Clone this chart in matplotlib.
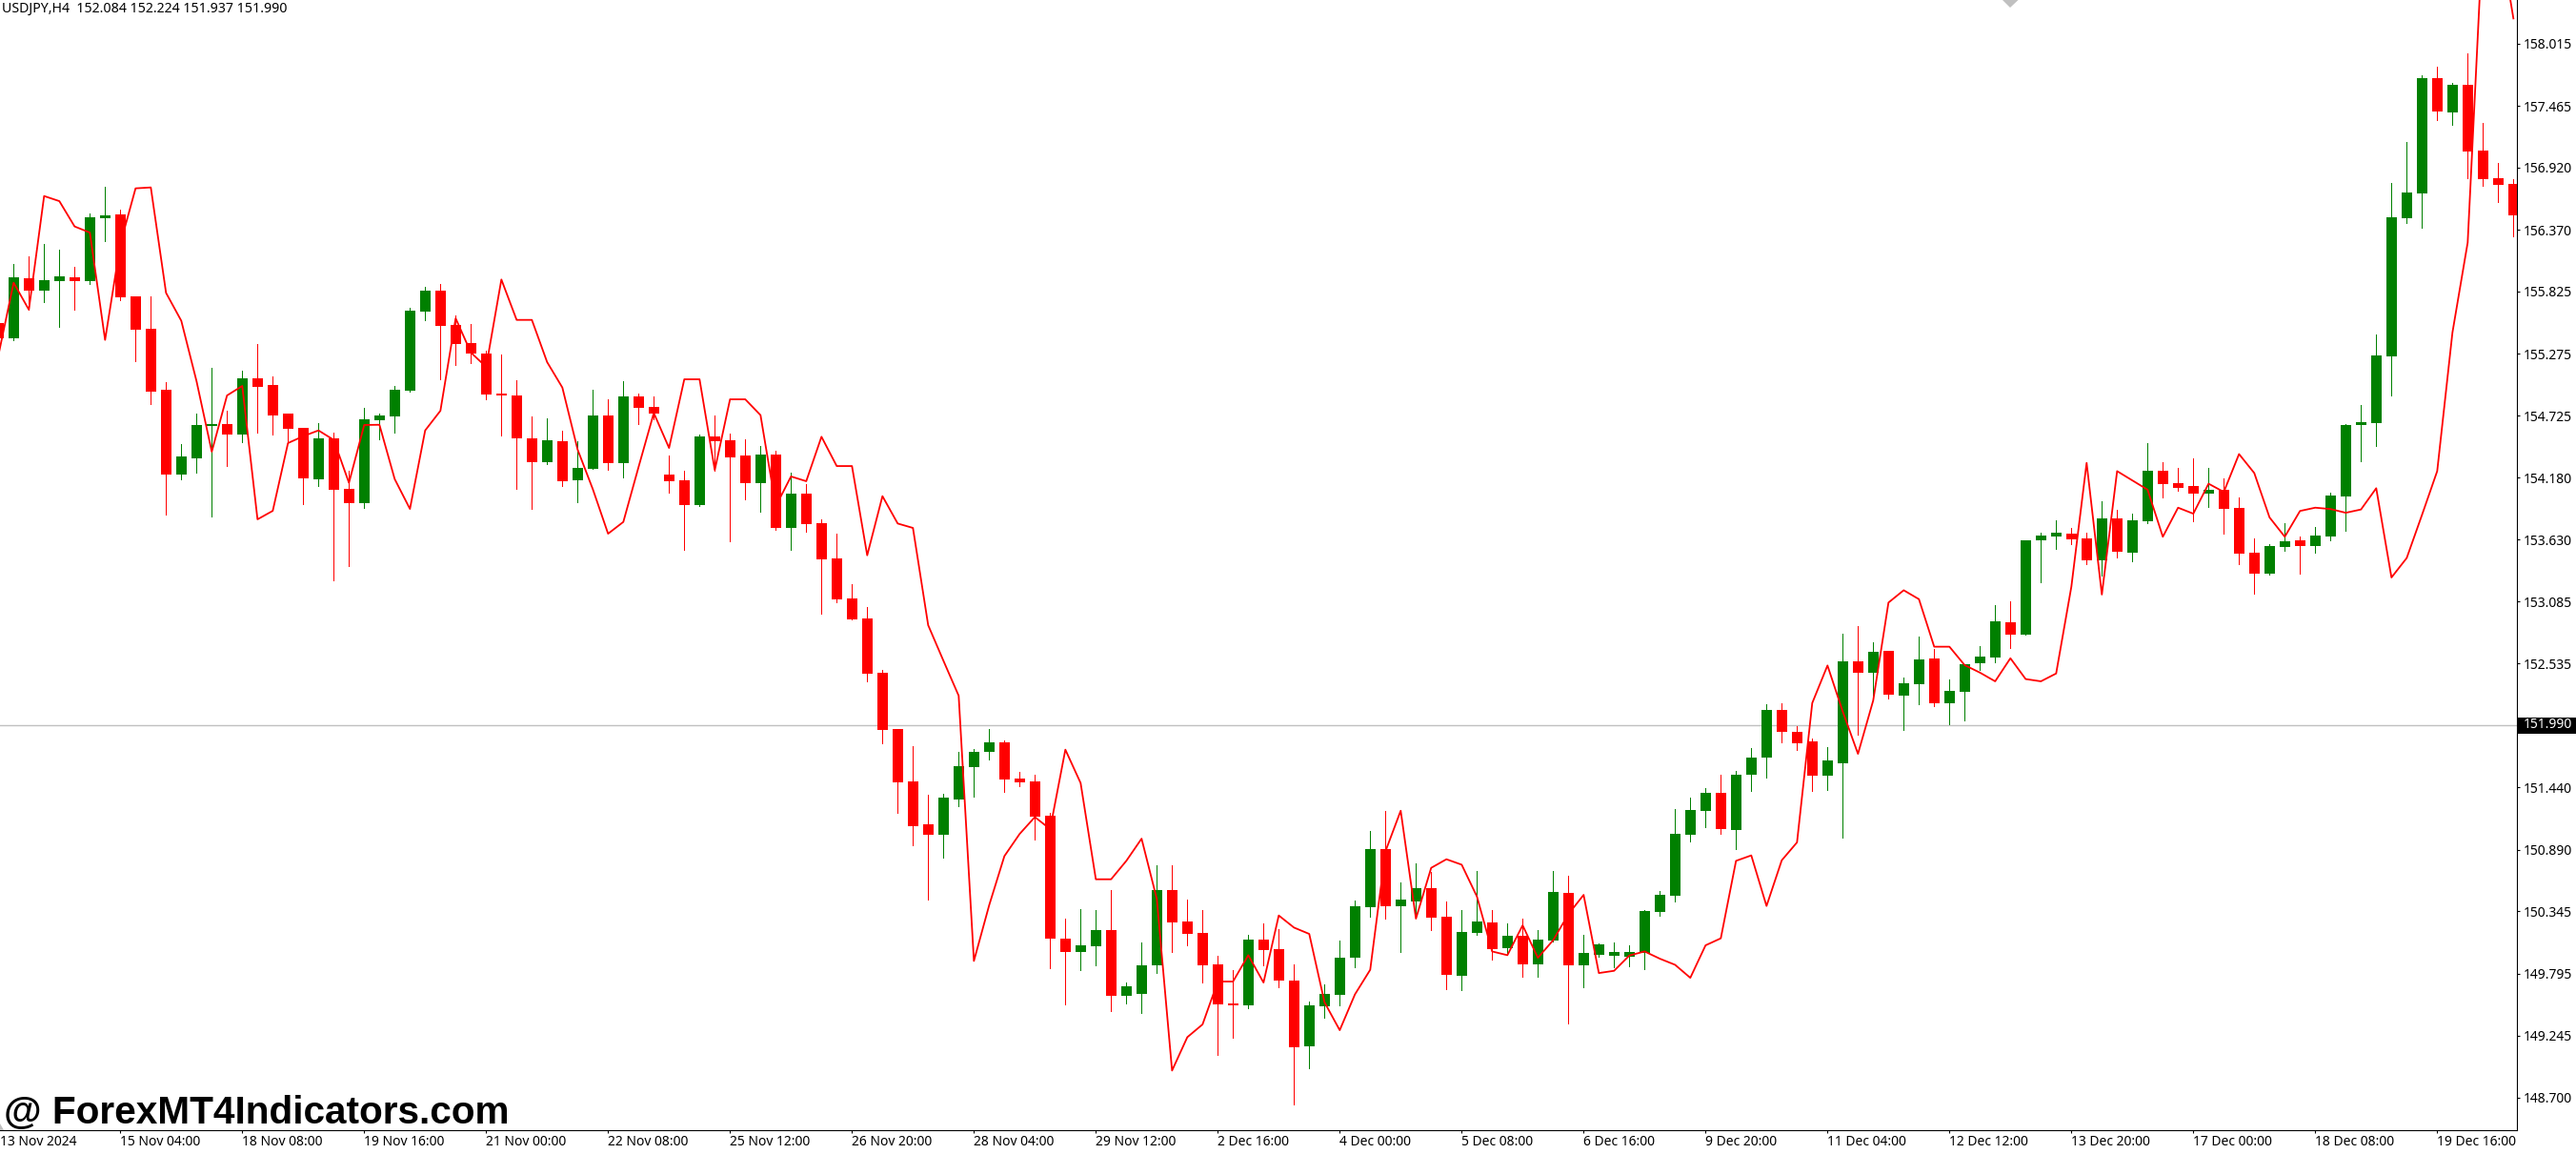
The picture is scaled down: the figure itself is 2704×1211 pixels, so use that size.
import matplotlib
matplotlib.use("Agg")
import matplotlib.pyplot as plt
from matplotlib.patches import Polygon, Rectangle
import numpy as np

opens = [155.545,155.410,155.941,155.831,155.916,155.949,155.916,156.472,156.505,155.781,155.495,154.955,154.206,154.349,154.635,154.652,154.559,155.056,154.997,154.745,154.618,154.163,154.526,154.079,153.953,154.686,154.719,154.947,155.646,155.831,155.528,155.368,155.275,154.922,154.905,154.526,154.315,154.500,154.155,154.256,154.728,154.307,154.896,154.804,154.206,154.155,153.936,154.543,154.509,154.374,154.130,154.382,153.734,154.037,153.776,153.464,153.110,152.933,152.453,151.956,151.493,151.114,151.021,151.333,151.619,151.754,151.838,151.518,151.493,151.190,150.103,149.985,150.035,150.179,149.597,149.614,149.867,150.532,150.254,150.153,149.875,149.530,149.513,150.094,150.010,149.732,149.151,149.505,149.606,149.934,150.381,150.895,150.389,150.431,150.549,150.297,149.774,150.153,150.246,150.019,150.128,149.875,150.086,150.507,149.867,149.960,149.951,149.943,149.976,150.339,150.482,151.021,151.232,151.392,151.063,151.552,151.703,152.125,151.931,151.847,151.543,151.653,152.554,152.453,152.647,152.251,152.349,152.578,152.182,152.288,152.537,152.586,152.900,152.790,153.623,153.660,153.684,153.639,153.448,153.819,153.513,153.791,154.240,154.129,154.105,154.036,154.072,153.909,153.513,153.329,153.566,153.623,153.574,153.656,154.011,154.644,154.660,155.248,156.474,156.690,157.711,157.409,157.650,157.070,156.825,156.776]
highs = [155.565,156.067,156.135,156.244,156.194,156.042,156.514,156.750,156.548,155.781,155.781,155.023,154.475,154.745,155.149,154.770,155.124,155.360,155.073,154.745,154.618,154.660,154.576,154.239,154.795,154.745,154.989,155.680,155.865,155.890,155.610,155.537,155.301,155.267,155.040,154.719,154.703,154.593,154.500,154.955,154.871,155.031,154.922,154.896,154.374,154.239,154.559,154.728,154.568,154.517,154.458,154.416,154.222,154.121,153.810,153.683,153.237,153.035,152.479,151.956,151.805,151.375,151.383,151.754,151.779,151.956,151.855,151.577,151.552,151.215,150.280,150.364,150.356,150.532,149.715,150.069,150.751,150.751,150.448,150.356,149.951,149.825,150.136,150.238,150.187,149.875,149.547,149.698,150.086,150.440,151.055,151.232,150.600,150.768,150.692,150.431,150.356,150.701,150.356,150.238,150.280,150.179,150.701,150.659,150.136,150.061,150.069,150.044,150.356,150.524,151.249,151.350,151.434,151.552,151.585,151.788,152.175,152.184,151.981,151.872,151.796,152.799,152.866,152.723,152.647,152.411,152.774,152.663,152.398,152.533,152.692,153.051,153.084,153.623,153.693,153.803,153.733,153.693,153.970,153.893,153.860,154.485,154.313,154.264,154.350,154.264,154.170,154.003,153.639,153.595,153.778,153.656,153.742,154.048,154.656,154.820,155.444,156.784,157.147,157.735,157.813,157.666,157.927,157.315,156.959,156.817]
lows = [155.396,155.396,155.663,155.733,155.514,155.663,155.893,156.272,155.750,155.208,154.829,153.852,154.163,154.222,153.838,154.281,154.492,154.576,154.559,154.484,153.944,154.104,153.270,153.397,153.911,154.517,154.576,154.938,155.570,155.048,155.174,155.191,154.871,154.551,154.079,153.902,154.298,154.104,153.961,154.256,154.248,154.180,154.652,154.694,154.045,153.540,153.928,154.239,153.616,153.987,153.877,153.717,153.540,153.700,152.976,153.077,152.925,152.377,151.830,151.215,150.928,150.448,150.819,151.274,151.358,151.687,151.400,151.451,150.979,149.842,149.521,149.825,149.867,149.462,149.530,149.446,149.799,149.985,150.044,149.715,149.075,149.227,149.488,149.867,149.673,148.637,148.957,149.404,149.513,149.850,150.297,150.280,149.985,150.285,150.179,149.656,149.648,150.136,149.917,149.976,149.766,149.766,150.077,149.353,149.673,149.943,149.850,149.858,149.833,150.305,150.431,150.962,151.088,151.029,150.895,151.409,151.527,151.838,151.771,151.409,151.417,150.996,151.906,152.209,152.226,151.948,152.173,152.161,151.998,152.030,152.480,152.545,152.672,152.790,153.251,153.550,153.590,153.415,153.317,153.472,153.439,153.774,154.003,154.060,153.791,153.917,153.684,153.415,153.153,153.321,153.529,153.329,153.513,153.623,153.709,154.321,154.456,154.905,156.429,156.388,157.339,157.298,156.825,156.759,156.616,156.310]
closes = [155.410,155.949,155.831,155.924,155.958,155.916,156.480,156.497,155.773,155.486,154.938,154.206,154.366,154.644,154.652,154.559,155.056,154.981,154.728,154.610,154.172,154.526,154.071,153.953,154.694,154.728,154.955,155.655,155.831,155.520,155.360,155.275,154.913,154.905,154.526,154.315,154.509,154.147,154.265,154.728,154.307,154.896,154.795,154.745,154.147,153.936,154.543,154.500,154.357,154.130,154.382,153.734,154.037,153.767,153.456,153.102,152.925,152.445,151.948,151.484,151.097,151.021,151.350,151.628,151.754,151.838,151.510,151.484,151.181,150.103,149.985,150.044,150.179,149.597,149.682,149.867,150.532,150.246,150.145,149.867,149.521,149.513,150.094,150.002,149.732,149.142,149.513,149.614,149.934,150.389,150.895,150.389,150.448,150.549,150.288,149.783,150.162,150.254,150.010,150.128,149.875,150.094,150.516,149.867,149.976,150.052,149.985,149.985,150.347,150.490,151.029,151.240,151.392,151.072,151.552,151.703,152.125,151.931,151.830,151.543,151.678,152.554,152.453,152.639,152.259,152.361,152.570,152.182,152.292,152.533,152.594,152.908,152.790,153.623,153.668,153.693,153.631,153.448,153.819,153.521,153.803,154.240,154.121,154.089,154.036,154.072,153.901,153.505,153.329,153.574,153.615,153.574,153.668,154.019,154.644,154.669,155.257,156.482,156.698,157.711,157.417,157.650,157.062,156.817,156.768,156.498]
indicator = [155.259,155.902,155.663,156.668,156.623,156.399,156.345,155.396,156.244,156.736,156.744,155.812,155.565,155.031,154.408,154.905,154.989,153.810,153.885,154.484,154.545,154.596,154.512,154.133,154.644,154.646,154.166,153.902,154.596,154.770,155.587,155.284,155.158,155.930,155.573,155.573,155.200,154.975,154.427,154.076,153.683,153.787,154.273,154.750,154.441,155.048,155.048,154.245,154.871,154.871,154.731,153.925,154.189,154.147,154.540,154.281,154.281,153.492,154.015,153.773,153.734,152.874,152.560,152.251,149.906,150.398,150.833,151.029,151.178,151.072,151.774,151.479,150.628,150.628,150.791,150.987,150.454,148.937,149.232,149.345,149.724,149.724,149.957,149.715,150.308,150.201,150.145,149.541,149.294,149.611,149.828,150.875,151.234,150.280,150.729,150.805,150.757,150.476,149.990,149.957,150.221,149.934,150.089,150.319,150.490,149.799,149.819,149.954,149.990,149.926,149.872,149.757,150.044,150.106,150.791,150.839,150.392,150.796,150.954,152.186,152.518,152.111,151.737,152.209,153.074,153.183,153.104,152.684,152.684,152.521,152.455,152.378,152.582,152.398,152.378,152.447,153.215,154.309,153.145,154.236,154.154,154.072,153.656,153.913,153.860,154.125,154.052,154.387,154.219,153.827,153.656,153.884,153.913,153.901,153.868,153.897,154.085,153.296,153.468,153.848,154.236,155.461,156.257,159.014,159.054,158.238]

price_ticks = [158.015,157.465,156.920,156.370,155.825,155.275,154.725,154.180,153.630,153.085,152.535,151.440,150.890,150.345,149.795,149.245,148.700]
date_labels = ["15 Nov 04:00","18 Nov 08:00","19 Nov 16:00","21 Nov 00:00","22 Nov 08:00","25 Nov 12:00","26 Nov 20:00","28 Nov 04:00","29 Nov 12:00","2 Dec 16:00","4 Dec 00:00","5 Dec 08:00","6 Dec 16:00","9 Dec 20:00","11 Dec 04:00","12 Dec 12:00","13 Dec 20:00","17 Dec 00:00","18 Dec 08:00","19 Dec 16:00"]
last_price = 151.990

x = np.arange(len(opens))
FONT = 'Noto Sans'
FS = 10
W, HH = 2704, 1211
GREEN, RED, GREY = '#008000', '#ff0000', '#c0c0c0'

fig = plt.figure(figsize=(W / 100, HH / 100), dpi=100)
ax = fig.add_axes([0, (HH - 1186) / HH, 2641.5 / W, 1186 / HH])
ax.set_xlim(0.106, 165.2)
ax.set_ylim(148.41, 158.401)
cols = [GREEN if c >= o else RED for o, c in zip(opens, closes)]
ax.axhline(last_price, color=GREY, lw=1.0, zorder=0)
ax.vlines(x, lows, highs, colors=cols, lw=.72, antialiased=False, zorder=2)
ax.bar(x, np.abs(np.array(closes) - np.array(opens)), bottom=np.minimum(opens, closes),
       width=11 / 16, color=cols, antialiased=False, zorder=3)
ax.plot(x, indicator, color=RED, lw=1.3, zorder=4)
for s in ('top', 'left'):
    ax.spines[s].set_visible(False)
ax.yaxis.tick_right()
ax.set_yticks(price_ticks, [f"{v:.3f}" for v in price_ticks], fontfamily=FONT, fontsize=FS)
ax.tick_params(axis='y', length=2.5, pad=2.5, width=.8)
ax.set_xticks(np.arange(1, 21) * 8, date_labels, fontfamily=FONT, fontsize=FS, ha='left')
ax.tick_params(axis='x', length=2.5, pad=1, width=.8)

fig.text(0, 1 - 1198 / HH, "13 Nov 2024", fontfamily=FONT, fontsize=FS, va='center')
fig.text(2 / W, 1 - 9 / HH, "USDJPY,H4  152.084 152.224 151.937 151.990", fontfamily=FONT, fontsize=10.2, va='center')
fig.text(4 / W, 1 - 1179 / HH, "@ ForexMT4Indicators.com", fontfamily='Liberation Sans',
         fontweight='bold', fontsize=29.2, va='baseline', zorder=6)
fig.add_artist(Rectangle((2643 / W, 1 - 770 / HH), 61 / W, 17 / HH, transform=fig.transFigure, fc='k', ec='none'))
fig.text(2649 / W, 1 - 761 / HH, f"{last_price:.3f}", color='w', fontfamily=FONT, fontsize=FS, va='center', zorder=6)
fig.add_artist(Polygon([(2102 / W, 1), (2118.5 / W, 1), (2110 / W, 1 - 8 / HH)], transform=fig.transFigure, fc=GREY, ec='none'))
fig.add_artist(Polygon([(0, 1 - 1179 / HH), (4 / W, 1 - 1186 / HH), (0, 1 - 1186 / HH)], transform=fig.transFigure, fc=GREY, ec='none'))
fig.savefig("out.png")
